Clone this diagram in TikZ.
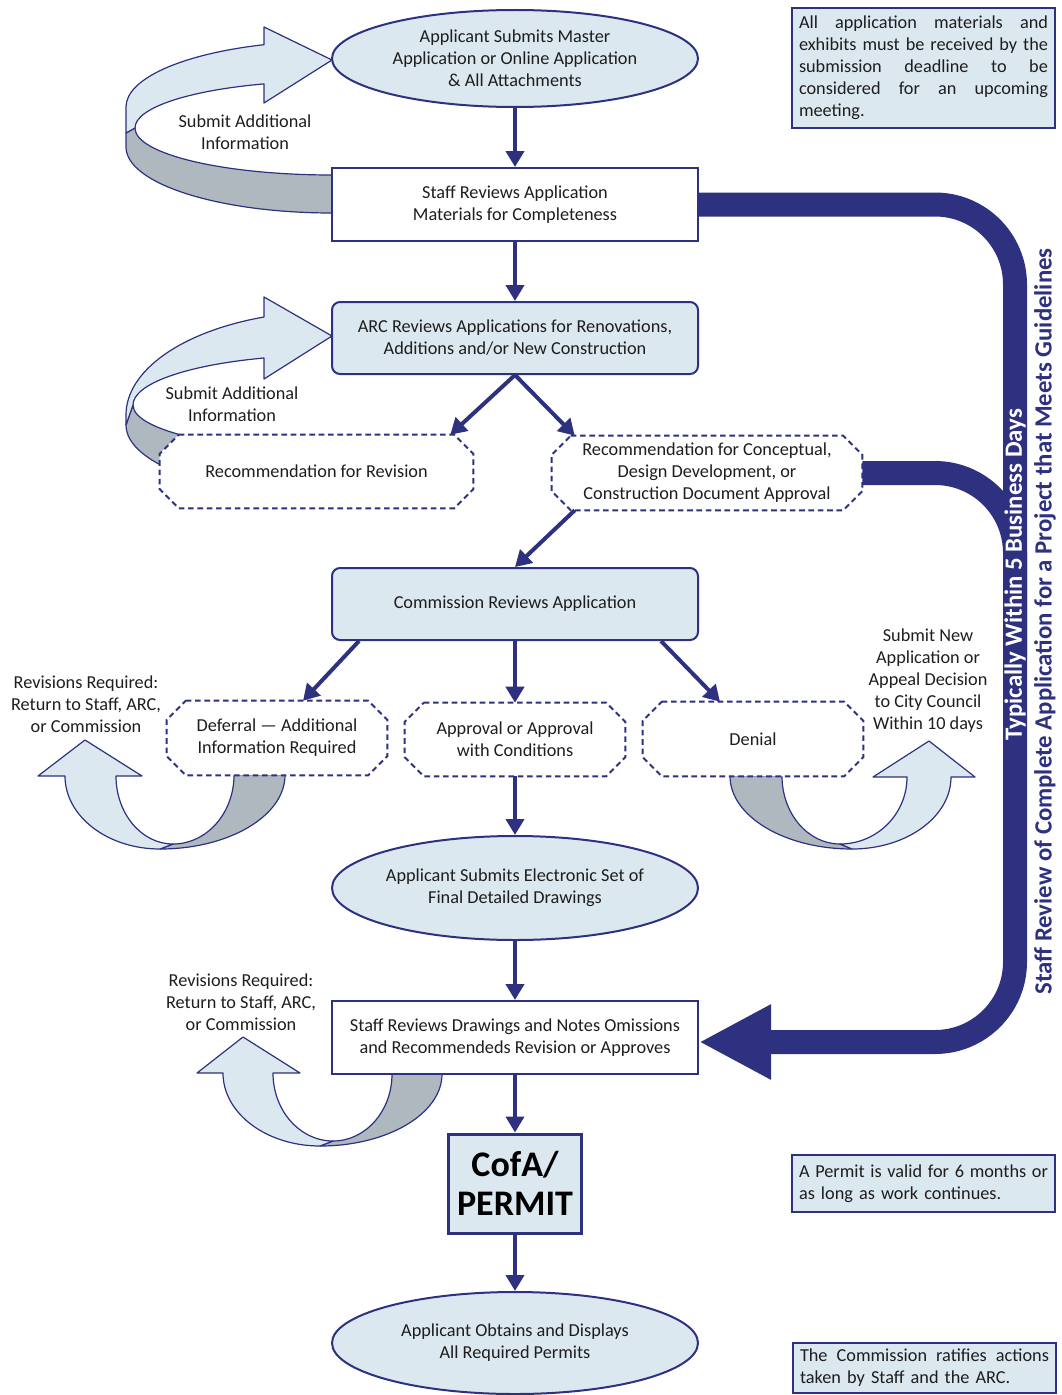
\documentclass[tikz,border=0pt]{standalone}
\usepackage{fontspec}
\setmainfont{Carlito}
\usetikzlibrary{arrows.meta,shapes.geometric,backgrounds}
\newdimen\px \px=0.75pt
\newdimen\notew \notew=186.75pt
\definecolor{navy}{RGB}{46,49,128}
\definecolor{lblue}{RGB}{219,232,239}
\definecolor{rgray}{RGB}{176,184,191}
\definecolor{ink}{RGB}{30,30,30}
\newcommand\octagonpath[1]{%
  \draw[octline] ([xshift=19\px]#1.north west) -- ([xshift=-19\px]#1.north east)
   -- ([yshift=-19\px]#1.north east) -- ([yshift=19\px]#1.south east)
   -- ([xshift=-19\px]#1.south east) -- ([xshift=19\px]#1.south west)
   -- ([yshift=19\px]#1.south west) -- ([yshift=-19\px]#1.north west) -- cycle;}
\newcommand\jline[1]{\leavevmode\hbox to \notew{\spaceskip=0.25em plus 1fil minus 0.05em #1}}
\begin{document}
\begin{tikzpicture}[x=0.75pt,y=-0.75pt,
  every node/.style={font=\fontsize{13.7}{16.5}\selectfont, text=ink, inner sep=0pt},
  bx/.style={draw=navy, line width=1.5pt, minimum width=366\px, minimum height=73\px, align=center},
  whitebox/.style={bx, fill=white},
  roundbox/.style={bx, fill=lblue, rounded corners=8\px},
  ell/.style={ellipse, draw=navy, line width=1.5pt, fill=lblue, minimum width=366\px, align=center},
  octbox/.style={minimum height=74\px, align=center},
  octline/.style={draw=navy, fill=white, line width=1.5pt, dash pattern=on 4.2pt off 2.8pt},
  note/.style={draw=navy, fill=lblue, line width=1.1pt, minimum width=263\px, text width=249\px, align=left},
  flow/.style={draw=navy, line width=3pt, -{Triangle[length=12pt,width=13.5pt]}},
  band/.style={draw=navy, line width=18pt, rounded corners=80\px},
  rib/.style={draw=navy, line width=0.9pt, line join=round},
  vtext/.style={rotate=90, font=\bfseries\fontsize{18.6}{18.6}\selectfont},
  lbl/.style={align=center}]
\useasboundingbox (0,0) rectangle (1062,1395);

% main nodes
\node[ell, minimum height=97\px] (app1) at (515,58.5) {Applicant Submits Master\\Application or Online Application\\\& All Attachments};
\node[whitebox] (rev1) at (515,204.5) {Staff Reviews Application\\Materials for Completeness};
\node[roundbox, minimum height=72\px] (arc) at (515,338) {ARC Reviews Applications for Renovations,\\Additions and/or New Construction};
\node[octbox, minimum width=313\px, minimum height=73\px] (rec1) at (316.5,471.5) {Recommendation for Revision};
\node[octbox, minimum width=310\px] (rec2) at (707,473) {Recommendation for Conceptual,\\Design Development, or\\Construction Document Approval};
\node[roundbox, minimum height=72\px] (comm) at (515,604) {Commission Reviews Application};
\node[octbox, minimum width=220\px] (defer) at (277,738) {Deferral --- Additional\\Information Required};
\node[octbox, minimum width=220\px, minimum height=73\px] (appr) at (515,739.5) {Approval or Approval\\with Conditions};
\node[octbox, minimum width=220\px] (denial) at (753,739) {Denial};
\node[ell, minimum height=104\px] (app2) at (515,888) {Applicant Submits Electronic Set of\\Final Detailed Drawings};
\node[whitebox] (rev2) at (515,1037.5) {Staff Reviews Drawings and Notes Omissions\\and Recommendeds Revision or Approves};
\node[draw=navy, line width=2.25pt, fill=lblue, minimum width=133\px, minimum height=99\px,
      font=\bfseries\fontsize{27}{29}\selectfont, text=black, align=center] (cofa) at (515,1183.5) {CofA/\\PERMIT};
\node[ell, minimum height=102\px] (app3) at (515,1343) {Applicant Obtains and Displays\\All Required Permits};

% notes
\node[note, minimum height=120\px] (note1) at (923.5,68) {%
\jline{All application materials and}\\
\jline{exhibits must be received by the}\\
\jline{submission deadline to be}\\
\jline{considered for an upcoming}\\
meeting.};
\node[note, minimum height=57\px] (note2) at (923.5,1183.5) {%
\jline{A Permit is valid for 6 months or}\\
as long as work continues.};
\node[note, minimum height=50\px] (note3) at (924.5,1368) {%
\jline{The Commission ratifies actions}\\
taken by Staff and the ARC.};

% labels
\node[lbl] (lbl1) at (245,132) {Submit Additional\\Information};
\node[lbl] (lbl2) at (232,404) {Submit Additional\\Information};
\node[lbl] (lbl3) at (86,704) {Revisions Required:\\Return to Staff, ARC,\\or Commission};
\node[lbl] (lbl4) at (928,681) {Submit New\\Application or\\Appeal Decision\\to City Council\\Within 10 days};
\node[lbl] (lbl5) at (241,1002) {Revisions Required:\\Return to Staff, ARC,\\or Commission};

% ribbons and octagons behind
\begin{pgfonlayer}{background}
% ribbon a
\draw[rib, fill=rgray] (126,133) -- (126,147) .. controls (126,183.5) and (218.2,213) .. (332,213) -- (332,175) .. controls (223.2,175) and (135,154) .. (135,128) -- cycle;
\draw[rib, fill=lblue] (332,60) -- (264,27) -- (264,44.7) .. controls (181.3,54) and (126,78.9) .. (126,107) -- (126,133) -- (135,128) .. controls (135,108.3) and (186.5,90.7) .. (264,83.9) -- (264,103) -- cycle;
% ribbon b
\draw[rib, fill=rgray] (126,425) .. controls (126,464.8) and (218.2,497) .. (332,497) -- (332,451) .. controls (222.1,451) and (133,430.4) .. (133,405) -- cycle;
\draw[rib, fill=lblue] (332,336) -- (264,297) -- (264,317) .. controls (181.3,331.6) and (126,370.8) .. (126,415) -- (126,425) -- (133,405) .. controls (133,384) and (185.4,365.2) .. (264,358) -- (264,379) -- cycle;
% ribbon c
\draw[rib, fill=rgray] (234,775) .. controls (234,813) and (206.7,844) .. (173,844) -- (160,849) .. controls (229,849) and (285,815.9) .. (285,775) -- cycle;
\draw[rib, fill=lblue] (85,740) -- (142,776) -- (116,776) .. controls (116,813.6) and (141.5,844) .. (173,844) -- (160,849) .. controls (107.5,849) and (65,816.3) .. (65,776) -- (38,776) -- cycle;
% ribbon d
\draw[rib, fill=rgray] (730,776) .. controls (730,816.3) and (784.6,849) .. (852,849) -- (840,844) .. controls (808,844) and (782,813.6) .. (782,776) -- cycle;
\draw[rib, fill=lblue] (929,741) -- (975,777) -- (951,777) .. controls (951,816.8) and (906.7,849) .. (852,849) -- (840,844) .. controls (877,844) and (907,814) .. (907,777) -- (873,777) -- cycle;
% ribbon e
\draw[rib, fill=rgray] (392,1074) .. controls (392,1111) and (365.6,1141) .. (333,1141) -- (320,1146) .. controls (387.4,1146) and (442,1113.8) .. (442,1074) -- cycle;
\draw[rib, fill=lblue] (243,1037) -- (300,1073) -- (273,1073) .. controls (273,1110.6) and (299.9,1141) .. (333,1141) -- (320,1146) .. controls (266.4,1146) and (223,1113.3) .. (223,1073) -- (197,1073) -- cycle;
% octagons
\octagonpath{rec1}
\octagonpath{rec2}
\octagonpath{defer}
\octagonpath{appr}
\octagonpath{denial}
\end{pgfonlayer}

% thick bands
\draw[band, -{Triangle[length=54pt,width=52.5pt]}] (rev1.east) -- (1015,204.5) -- (1015,1042) -- ([yshift=-4.5\px]rev2.east);
\draw[band] (rec2.east) -- (1015,473) -- (1015,660);
\node[vtext, text=white] (t1) at (1015,575) {Typically Within 5 Business Days};
\node[vtext, text=navy] (t2) at (1045,621.5) {Staff Review of Complete Application for a Project that Meets Guidelines};

% flow arrows
\draw[flow] (app1.south) -- (rev1.north);
\draw[flow] (rev1.south) -- (arc.north);
\draw[flow] (arc.south) -- ([xshift=-23\px]rec1.north east);
\draw[flow] (arc.south) -- ([xshift=23\px]rec2.north west);
\draw[flow] ([xshift=23\px]rec2.south west) -- (comm.north);
\draw[flow] ([xshift=28\px]comm.south west) -- ([xshift=26\px]defer.north);
\draw[flow] (comm.south) -- (appr.north);
\draw[flow] ([xshift=-38\px]comm.south east) -- ([xshift=-33\px]denial.north);
\draw[flow] (appr.south) -- (app2.north);
\draw[flow] (app2.south) -- (rev2.north);
\draw[flow] (rev2.south) -- (cofa.north);
\draw[flow] (cofa.south) -- (app3.north);
\end{tikzpicture}
\end{document}
